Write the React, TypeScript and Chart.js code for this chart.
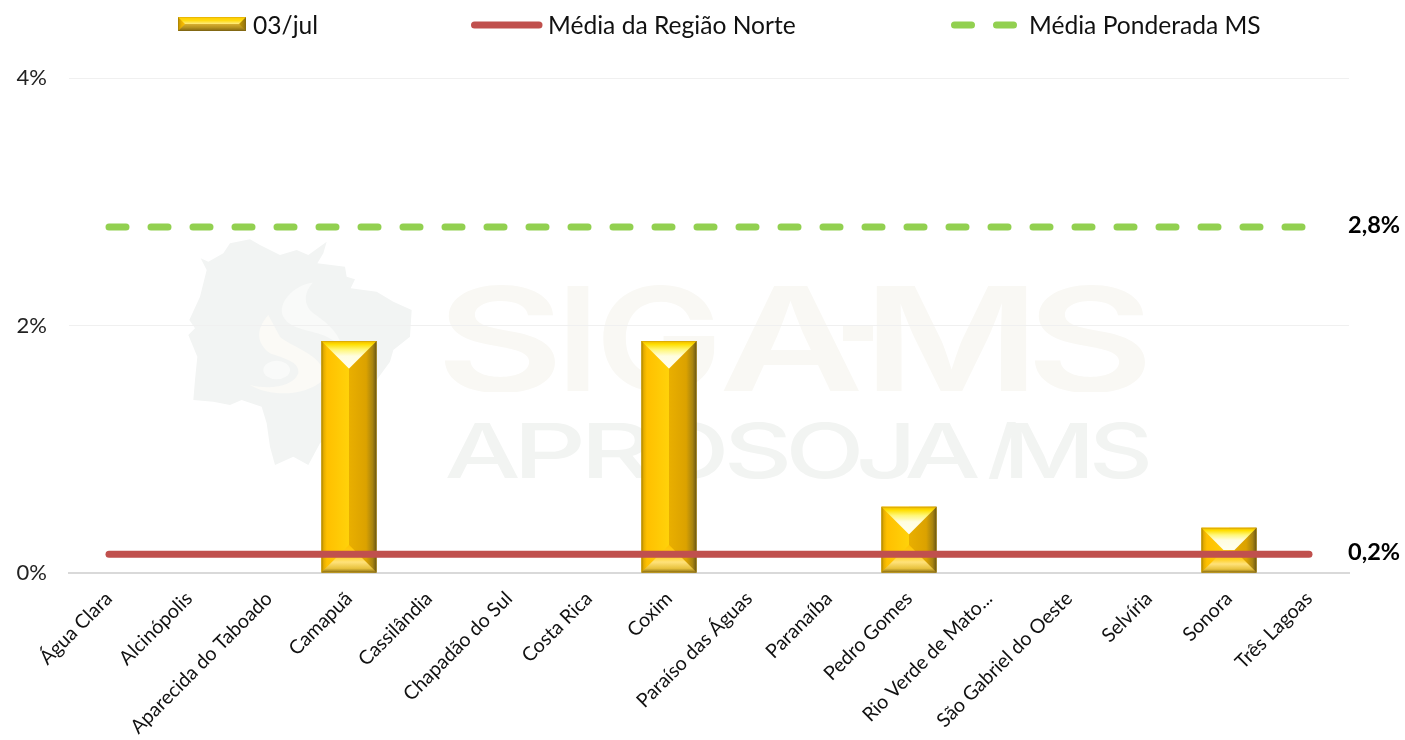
import React, { useEffect, useRef } from "react";
import { Chart, registerables } from "chart.js";

Chart.register(...registerables);

const categories = [
  "Água Clara", "Alcinópolis", "Aparecida do Taboado", "Camapuã", "Cassilândia",
  "Chapadão do Sul", "Costa Rica", "Coxim", "Paraíso das Águas", "Paranaíba",
  "Pedro Gomes", "Rio Verde de Mato...", "São Gabriel do Oeste", "Selvíria", "Sonora", "Três Lagoas",
];
const dayValues = [0, 0, 0, 1.875, 0, 0, 0, 1.875, 0, 0, 0.535, 0, 0, 0, 0.365, 0];
const northAverage = 0.152;
const stateAverage = 2.795;
const northValues = categories.map(() => northAverage);
const stateValues = categories.map(() => stateAverage);
const labelDay = "03/jul";
const labelNorth = "Média da Região Norte";
const labelState = "Média Ponderada MS";
const yTicks = [0, 2, 4];

const FONT = "Lato, 'Open Sans', sans-serif";
const RED = "#c0504d";
const GREEN = "#92d050";

function grad(ctx: CanvasRenderingContext2D, x0: number, y0: number, x1: number, y1: number, stops: [number, string][]) {
  const g = ctx.createLinearGradient(x0, y0, x1, y1);
  stops.forEach(([o, c]) => g.addColorStop(o, c));
  return g;
}

function poly(ctx: CanvasRenderingContext2D, pts: number[][], fill: string | CanvasGradient) {
  ctx.beginPath();
  pts.forEach(([x, y], i) => (i ? ctx.lineTo(x, y) : ctx.moveTo(x, y)));
  ctx.closePath();
  ctx.fillStyle = fill;
  ctx.fill();
}

function bevelBox(ctx: CanvasRenderingContext2D, x: number, y: number, w: number, h: number, legend = false) {
  const b = Math.min(w / 2, h / 2, 27.5);
  const r = x + w;
  const B = y + h;
  const il = x + b, ir = r - b, it = y + b, ib = B - b;
  const midX = x + w / 2;
  ctx.save();
  poly(ctx, [[x, y], [midX, y], [midX, B], [x, B]], grad(ctx, x, 0, midX, 0, [
    [0, "#b48a00"], [0.09, "#e6ae00"], [0.2, "#ffc000"], [1, "#ffd20a"],
  ]));
  poly(ctx, [[midX, y], [r, y], [r, B], [midX, B]], grad(ctx, midX, 0, r, 0, legend
    ? [[0, "#e9af00"], [0.8, "#c99a00"], [1, "#8a6d10"]]
    : [[0, "#e9af00"], [0.62, "#dba200"], [0.85, "#a98510"], [1, "#6a5614"]]));
  poly(ctx, [[x, y], [r, y], [ir, it], [il, it]], grad(ctx, 0, y, 0, it, legend
    ? [[0, "#ffc800"], [0.5, "#ffdc10"], [1, "#ffec80"]]
    : [[0, "#eeb500"], [0.12, "#ffdf00"], [0.32, "#fff77a"], [0.55, "#fffde0"], [1, "#fffff2"]]));
  poly(ctx, [[x, B], [r, B], [ir, ib], [il, ib]], grad(ctx, 0, ib, 0, B, legend
    ? [[0, "#d8b030"], [0.5, "#b59220"], [1, "#806510"]]
    : [[0, "#ffc400"], [0.4, "#ffcf20"], [0.62, "#ffe27a"], [0.85, "#e8c23e"], [1, "#8a6d10"]]));
  ctx.strokeStyle = "rgba(110,90,30,0.15)";
  ctx.lineWidth = 1;
  ctx.strokeRect(x + 0.5, y + 0.5, w - 1, h - 1);
  ctx.restore();
}

// Faint background watermark, outline points (crop space: x/3+180, y/3+230).
const mapOutline = [
  [150, 40], [210, 28], [240, 45], [300, 75], [350, 60], [385, 75], [440, 35], [430, 70], [412, 100],
  [495, 110], [500, 140], [525, 148], [512, 175], [590, 185], [640, 215], [695, 240], [690, 320],
  [640, 360], [630, 395], [590, 450], [585, 480], [540, 540], [480, 600], [420, 640], [385, 705],
  [340, 680], [285, 705], [270, 650], [260, 580], [245, 530], [185, 510], [150, 525], [100, 515],
  [40, 510], [45, 450], [52, 380], [25, 315], [45, 295], [28, 270], [60, 200], [80, 120], [62, 85],
  [85, 95], [130, 70],
];
const wordTop: [string, number, number][] = [
  ["S", 444, 555], ["I", 567, 589], ["G", 603, 715], ["A", 723, 860], ["M", 876, 1027], ["S", 1034, 1145],
];
const wordBottom: [string, number, number][] = [
  ["A", 446, 518], ["P", 522, 582], ["R", 589, 652], ["O", 656, 725], ["S", 728, 788], ["O", 791, 860],
  ["J", 860, 909], ["A", 906, 978], ["/", 986, 1017], ["M", 1011, 1088], ["S", 1093, 1149],
];

function fittedGlyphs(ctx: CanvasRenderingContext2D, glyphs: [string, number, number][], baseline: number, capH: number, font: string, color: string) {
  ctx.save();
  ctx.beginPath();
  ctx.rect(0, baseline - capH - 1, 1405, capH + 2);
  ctx.clip();
  ctx.font = font;
  ctx.fillStyle = color;
  ctx.textAlign = "left";
  ctx.textBaseline = "alphabetic";
  glyphs.forEach(([ch, x0, x1]) => {
    const m = ctx.measureText(ch);
    const inkW = m.actualBoundingBoxLeft + m.actualBoundingBoxRight;
    const sx = (x1 - x0) / inkW;
    ctx.save();
    ctx.translate(x0 + m.actualBoundingBoxLeft * sx, baseline);
    ctx.scale(sx, 1);
    ctx.fillText(ch, 0, 0);
    ctx.restore();
  });
  ctx.restore();
}

const watermarkPlugin = {
  id: "watermark",
  beforeDraw(chart: any) {
    const ctx: CanvasRenderingContext2D = chart.ctx;
    ctx.save();
    ctx.save();
    ctx.translate(180, 230);
    ctx.scale(1 / 3, 1 / 3);
    poly(ctx, mapOutline, "#f2f4f3");
    ctx.fillStyle = "#fbfaf6";
    ctx.beginPath();
    ctx.moveTo(265, 255);
    ctx.bezierCurveTo(225, 300, 230, 340, 270, 370);
    ctx.bezierCurveTo(310, 385, 360, 395, 355, 430);
    ctx.bezierCurveTo(340, 470, 270, 480, 210, 465);
    ctx.bezierCurveTo(280, 505, 380, 495, 430, 450);
    ctx.bezierCurveTo(450, 380, 330, 350, 300, 320);
    ctx.closePath();
    ctx.fill();
    ctx.fillStyle = "#f9faf9";
    ctx.beginPath();
    ctx.moveTo(398, 158);
    ctx.bezierCurveTo(340, 165, 290, 220, 310, 260);
    ctx.bezierCurveTo(330, 300, 400, 300, 440, 320);
    ctx.lineTo(485, 345);
    ctx.bezierCurveTo(470, 300, 430, 270, 400, 250);
    ctx.bezierCurveTo(370, 225, 370, 190, 398, 158);
    ctx.closePath();
    ctx.fill();
    ctx.beginPath();
    ctx.ellipse(290, 420, 40, 28, 0, 0, Math.PI * 2);
    ctx.fill();
    ctx.restore();
    fittedGlyphs(ctx, wordTop, 391, 105, "600 144px Inter, sans-serif", "#f9f8f4");
    ctx.fillStyle = "#f9f8f4";
    ctx.fillRect(843, 325, 30, 16);
    fittedGlyphs(ctx, wordBottom, 478, 55, "500 76px Inter, sans-serif", "#f2f4f2");
    ctx.restore();
  },
};

const bevelBarsPlugin = {
  id: "bevelBars",
  afterDatasetDraw(chart: any, args: any) {
    if (args.index !== 0) return;
    const ctx: CanvasRenderingContext2D = chart.ctx;
    args.meta.data.forEach((el: any) => {
      const h = el.base - el.y;
      if (h < 1) return;
      bevelBox(ctx, el.x - el.width / 2, el.y, el.width, h);
    });
  },
};

const legendAndLabelsPlugin = {
  id: "legendAndLabels",
  afterDraw(chart: any) {
    const ctx: CanvasRenderingContext2D = chart.ctx;
    const ds = chart.data.datasets;
    ctx.save();
    ctx.font = `24.6px ${FONT}`;
    ctx.fillStyle = "#111";
    ctx.textBaseline = "middle";
    ctx.textAlign = "left";
    ctx.fillText(ds[0].label, 253, 26);
    ctx.fillText(ds[1].label, 548, 26);
    ctx.fillText(ds[2].label, 1029, 26);
    bevelBox(ctx, 178, 17, 68, 14, true);
    ctx.lineWidth = 7;
    ctx.lineCap = "round";
    ctx.strokeStyle = RED;
    ctx.beginPath();
    ctx.moveTo(474.5, 25);
    ctx.lineTo(539, 25);
    ctx.stroke();
    ctx.strokeStyle = GREEN;
    ctx.setLineDash([17, 25]);
    ctx.beginPath();
    ctx.moveTo(954.5, 25);
    ctx.lineTo(1017, 25);
    ctx.stroke();
    ctx.setLineDash([]);
    ctx.font = `bold 23.5px ${FONT}`;
    ctx.fillStyle = "#000";
    [1, 2].forEach((i) => {
      const meta = chart.getDatasetMeta(i);
      const last = meta.data[meta.data.length - 1];
      const v = ds[i].data[ds[i].data.length - 1];
      ctx.fillText(v.toFixed(1).replace(".", ",") + "%", 1348, last.y - 1.5);
    });
    ctx.restore();
  },
};

export default function App() {
  const ref = useRef<HTMLCanvasElement | null>(null);
  useEffect(() => {
    const chart = new Chart(ref.current as HTMLCanvasElement, {
      type: "bar",
      data: {
        labels: categories,
        datasets: [
          { type: "bar", label: labelDay, data: dayValues, backgroundColor: "#ffc800", barPercentage: 0.69, categoryPercentage: 1, order: 3 },
          { type: "line", label: labelNorth, data: northValues, borderColor: RED, borderWidth: 7, borderCapStyle: "round", pointRadius: 0, order: 2, tension: 0 },
          { type: "line", label: labelState, data: stateValues, borderColor: GREEN, borderWidth: 7, borderCapStyle: "round", borderDash: [17, 25], pointRadius: 0, order: 1, tension: 0 },
        ],
      } as any,
      plugins: [watermarkPlugin, bevelBarsPlugin, legendAndLabelsPlugin],
      options: {
        responsive: false,
        animation: false,
        layout: { padding: { top: 78, right: 56, left: 0, bottom: 0 } },
        plugins: { legend: { display: false }, tooltip: { enabled: false }, title: { display: false } },
        scales: {
          x: {
            afterFit: (s: any) => { s.height = 167; },
            grid: { display: false, drawTicks: false },
            border: { color: "#d9d9d9", width: 2 },
            ticks: {
              autoSkip: false, maxRotation: 45, minRotation: 45, padding: 14,
              color: "#111", font: { family: FONT, size: 19.6 },
            },
          },
          y: {
            min: 0, max: 4,
            afterFit: (s: any) => { s.width = 69; },
            afterBuildTicks: (s: any) => { s.ticks = yTicks.map((value) => ({ value })); },
            grid: { color: "#f0f0f0", lineWidth: 1, drawTicks: false },
            border: { display: false },
            ticks: {
              padding: 22, color: "#222", font: { family: FONT, size: 22 },
              callback: (v: any) => `${v}%`,
            },
          },
        },
      } as any,
    });
    return () => chart.destroy();
  }, []);
  return (
    <div style={{ position: "absolute", left: 0, top: 0, width: 1405, height: 740, overflow: "hidden" }}>
      <canvas ref={ref} width={1405} height={740} style={{ display: "block" }} />
    </div>
  );
}
